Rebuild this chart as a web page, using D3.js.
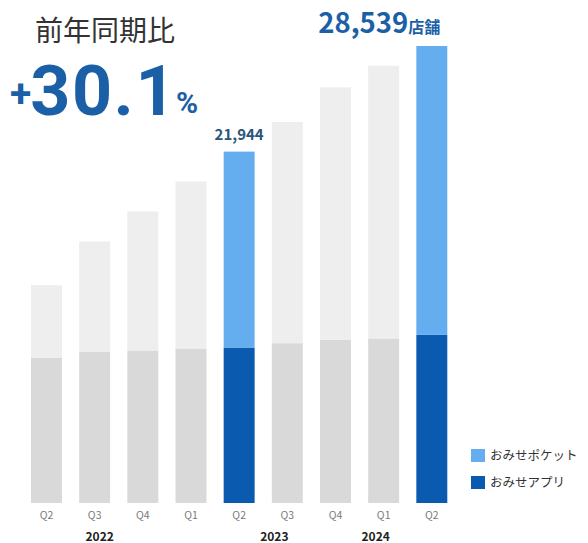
<!DOCTYPE html>
<html lang="ja">
<head>
<meta charset="utf-8">
<script src="https://cdn.jsdelivr.net/npm/d3@7"></script>
<style>
  html, body { margin: 0; padding: 0; background: #ffffff; }
  svg { display: block; font-family: "Noto Sans CJK JP", "Noto Sans", sans-serif; }
</style>
</head>
<body>
<svg id="chart" width="588" height="543"></svg>
<script>
// Quarterly store counts: おみせアプリ (base) + おみせポケット (stacked on top)
const quarters = ["2022Q2", "2022Q3", "2022Q4", "2023Q1", "2023Q2", "2023Q3", "2023Q4", "2024Q1", "2024Q2"];
const quarterLabels = ["Q2", "Q3", "Q4", "Q1", "Q2", "Q3", "Q4", "Q1", "Q2"];
const totals = [13600, 16330, 18210, 20080, 21944, 23790, 25960, 27310, 28539];
const appStores = [9080, 9460, 9520, 9650, 9710, 9980, 10190, 10270, 10500];
const pocketStores = totals.map((t, i) => t - appStores[i]);
const highlighted = ["2023Q2", "2024Q2"];
const years = ["2022", "2023", "2024"];
const yearAnchors = ["2022Q3", "2023Q3", "2024Q1"];
const seriesNames = ["おみせポケット", "おみせアプリ"];
const yoyText = "前年同期比";
const yoyValue = "30.1";

const colors = {
  pocket: "#64aef0",
  app: "#0a5bb0",
  restTop: "#eeeeee",
  restBase: "#d9d9d9"
};

const svg = d3.select("#chart");

const x = d3.scaleBand().domain(quarters).range([31, 447.3]).paddingInner(0.357).paddingOuter(0);
const y = d3.scaleLinear().domain([0, 28539]).range([503, 46]);

const rows = quarters.map((q, i) => ({
  q, label: quarterLabels[i], app: appStores[i], pocket: pocketStores[i], total: totals[i],
  hi: highlighted.includes(q)
}));

const stack = d3.stack().keys(["app", "pocket"])(rows);

const g = svg.append("g");
stack.forEach(layer => {
  g.selectAll(null).data(layer).enter().append("rect")
    .attr("x", d => x(d.data.q))
    .attr("width", x.bandwidth())
    .attr("y", d => y(d[1]))
    .attr("height", d => y(d[0]) - y(d[1]))
    .attr("fill", d => {
      if (layer.key === "app") return d.data.hi ? colors.app : colors.restBase;
      return d.data.hi ? colors.pocket : colors.restTop;
    });
});

// Quarter tick labels
const xAxis = d3.axisBottom(x).tickSize(0).tickFormat((d, i) => quarterLabels[i]);
const ax = svg.append("g").attr("transform", "translate(0,509)").call(xAxis);
ax.select(".domain").remove();
ax.selectAll("text")
  .attr("font-size", 10.5)
  .attr("fill", "#7a7a7a")
  .attr("font-family", "\"Noto Sans CJK JP\", sans-serif");

// Year labels under the quarter labels
const yearShift = [5, -13, -8];
svg.selectAll(".year").data(years).enter().append("text")
  .attr("class", "year")
  .attr("x", (d, i) => x(yearAnchors[i]) + x.bandwidth() / 2 + yearShift[i])
  .attr("y", 541)
  .attr("text-anchor", "middle")
  .attr("font-size", 12)
  .attr("font-weight", 700)
  .attr("fill", "#222")
  .text(d => d);

// Value labels above highlighted bars
const q23 = rows[4], q24 = rows[8];
svg.append("text")
  .attr("x", x(q23.q) + x.bandwidth() / 2)
  .attr("y", y(q23.total) - 12)
  .attr("text-anchor", "middle")
  .attr("font-size", 15)
  .attr("font-weight", 700)
  .attr("fill", "#2b5579")
  .text(d3.format(",")(q23.total));

const big = svg.append("text")
  .attr("x", x(q24.q) + x.bandwidth() - 7)
  .attr("y", y(q24.total) - 13)
  .attr("text-anchor", "end")
  .attr("fill", "#1b5fa6")
  .attr("font-weight", 700);
big.append("tspan").attr("font-size", 27.5).text(d3.format(",")(q24.total));
big.append("tspan").attr("font-size", 16).text("店舗");

// Year-over-year headline
svg.append("text")
  .attr("x", 35).attr("y", 41)
  .attr("font-size", 28)
  .attr("fill", "#333")
  .text(yoyText);

const yoy = svg.append("text")
  .attr("x", 10).attr("y", 115)
  .attr("fill", "#1b5fa6")
  .attr("font-family", "Roboto, sans-serif")
  .attr("font-weight", 700);
yoy.append("tspan").attr("font-size", 39).attr("dy", -8).text("+");
yoy.append("tspan").attr("font-size", 70).attr("dy", 8).attr("dx", -1).attr("letter-spacing", 1.5).text(yoyValue);
yoy.append("tspan").attr("font-size", 30).attr("dy", -2).attr("dx", -1).attr("letter-spacing", 0).text("%");

// Legend
const legend = svg.append("g").attr("transform", "translate(471,449)");
const legendColors = [colors.pocket, colors.app];
seriesNames.forEach((name, i) => {
  const row = legend.append("g").attr("transform", `translate(0,${i * 27})`);
  row.append("rect").attr("width", 14).attr("height", 13).attr("fill", legendColors[i]);
  row.append("text").attr("x", 19).attr("y", 11).attr("font-size", 12.5).attr("fill", "#333").text(name);
});
</script>
</body>
</html>
